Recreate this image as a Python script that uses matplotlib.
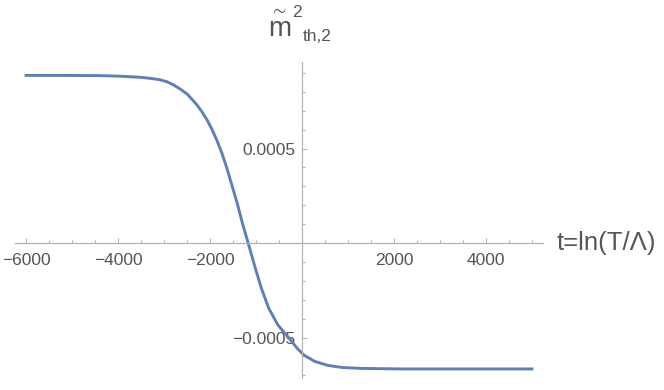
import matplotlib.pyplot as plt
from matplotlib.ticker import MultipleLocator, FuncFormatter

plt.rcParams['font.family'] = ['Liberation Sans', 'DejaVu Sans']
plt.rcParams['mathtext.fontset'] = 'custom'
plt.rcParams['mathtext.rm'] = 'Liberation Sans'
plt.rcParams['mathtext.fallback'] = 'stixsans'

# t = ln(T/Lambda) values
t_vals = [-6000, -5260, -4390, -3960, -3520, -3310, -3090, -2940, -2810,
          -2660, -2500, -2400, -2290, -2180, -2070, -1960, -1850, -1740,
          -1640, -1530, -1400, -1290, -1170, -1016, -886, -723, -528, -278,
          -93, 37, 276, 558, 862, 1253, 2122, 5000]
# m~^2_{th,2}
m_vals = [0.000887, 0.000887, 0.000886, 0.000883, 0.000877, 0.000872,
          0.000864, 0.000854, 0.000839, 0.000817, 0.000789, 0.000763,
          0.000733, 0.000696, 0.000654, 0.000603, 0.000543, 0.000475,
          0.000401, 0.000311, 0.000203, 0.000100, 0.0, -0.000132, -0.000237,
          -0.000345, -0.000432, -0.000505, -0.000560, -0.000592, -0.000626,
          -0.000647, -0.000658, -0.000663, -0.000666, -0.000666]

W, H = 664, 390
fig = plt.figure(figsize=(W / 100, H / 100), dpi=100)
ax = fig.add_axes([15 / W, 1 - 378 / H, 528 / W, 316 / H])

gray = '#b3b3b3'
text_gray = '#555555'

ax.plot(t_vals, m_vals, color='#5e81b5', lw=2.1, solid_joinstyle='round')

ax.set_xlim(-6240, 5240)
ax.set_ylim(-0.000714, 0.000958)

# Mathematica style axes through the origin
for s in ['top', 'right']:
    ax.spines[s].set_visible(False)
ax.spines['left'].set_position(('data', 0))
ax.spines['bottom'].set_position(('data', 0))
for s in ['left', 'bottom']:
    ax.spines[s].set_color(gray)
    ax.spines[s].set_linewidth(0.9)

ax.xaxis.set_major_locator(MultipleLocator(2000))
ax.xaxis.set_minor_locator(MultipleLocator(500))
ax.yaxis.set_major_locator(MultipleLocator(0.0005))
ax.yaxis.set_minor_locator(MultipleLocator(0.0001))

def fmt_x(v, pos):
    if abs(v) < 1e-9:
        return ''
    return f'{v:.0f}'.replace('-', '\u2212')

def fmt_y(v, pos):
    if abs(v) < 1e-12:
        return ''
    return f'{v:.4f}'.replace('-', '\u2212')

ax.xaxis.set_major_formatter(FuncFormatter(fmt_x))
ax.yaxis.set_major_formatter(FuncFormatter(fmt_y))

ax.tick_params(which='both', direction='in', color=gray, width=0.8,
               labelcolor=text_gray, labelsize=12.5)
ax.tick_params(which='major', length=3.6)
ax.tick_params(which='minor', length=2.2)
ax.tick_params(axis='x', which='major', pad=7)
ax.tick_params(axis='y', which='major', pad=5)

# axis labels placed as in the original
def px(x, y):
    return x / W, 1 - y / H

fig.text(*px(557, 243), 't=ln(T/\u039b)', fontsize=18.5, color=text_gray,
         ha='left', va='center')

# m with a tilde on top, then ^2 and _{th,2} side by side (Mathematica layout)
fig.text(*px(268, 37), r'$\overset{\sim}{\mathrm{m}}$', fontsize=20,
         color=text_gray, ha='left', va='baseline')
fig.text(*px(292, 17), '2', fontsize=12.5, color=text_gray,
         ha='left', va='baseline')
fig.text(*px(303, 41), 'th,2', fontsize=12.5, color=text_gray,
         ha='left', va='baseline')

fig.savefig('out.png', dpi=100)
